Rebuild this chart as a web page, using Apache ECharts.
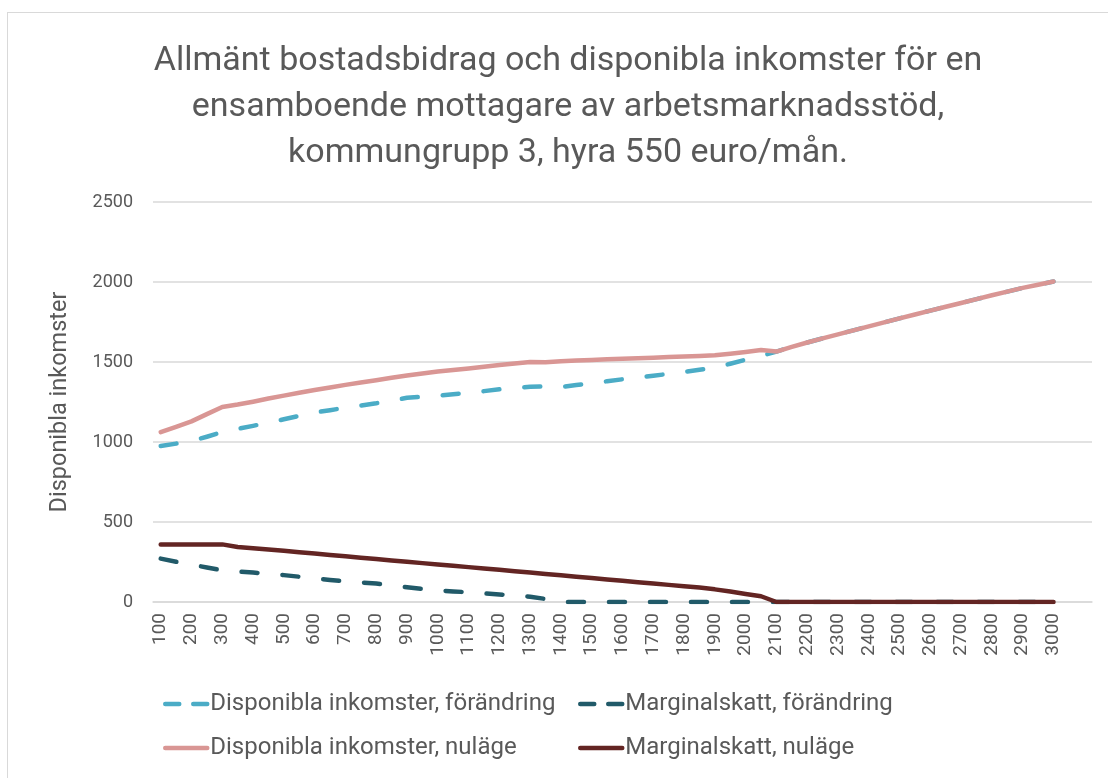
<!DOCTYPE html>
<html lang="sv">
<head>
    <meta charset="UTF-8">
    <title>Allmänt bostadsbidrag</title>
    <script src="https://cdn.jsdelivr.net/npm/echarts@6/dist/echarts.min.js"></script>
    <style>
        html, body { margin: 0; padding: 0; background: #fff; overflow: hidden; }
        #frame { position: absolute; left: 7px; top: 12px; width: 1200px; height: 900px; border: 1px solid #d9d9d9; }
        #main { position: absolute; left: 0; top: 0; width: 1108px; height: 778px; }
    </style>
</head>
<body>
<div id="frame"></div>
<div id="main"></div>
<script type="text/javascript">
    // inkomst (euro/mån), steg om 50
    var inkomst = [100, 150, 200, 250, 300, 350, 400, 450, 500, 550, 600, 650, 700, 750, 800, 850, 900, 950, 1000, 1050,
        1100, 1150, 1200, 1250, 1300, 1350, 1400, 1450, 1500, 1550, 1600, 1650, 1700, 1750, 1800, 1850, 1900, 1950, 2000, 2050,
        2100, 2150, 2200, 2250, 2300, 2350, 2400, 2450, 2500, 2550, 2600, 2650, 2700, 2750, 2800, 2850, 2900, 2950, 3000];

    var dispForandring = [975, 990, 1005, 1033, 1062, 1082, 1101, 1121, 1142, 1163, 1184, 1199, 1214, 1228, 1242, 1259, 1276, 1283, 1290, 1298,
        1307, 1318, 1329, 1337, 1345, 1347, 1344, 1356, 1367, 1380, 1392, 1403, 1414, 1426, 1438, 1451, 1464, 1489, 1514, 1538,
        1565, 1595, 1622, 1648, 1673, 1698, 1723, 1748, 1773, 1797, 1821, 1845, 1869, 1893, 1917, 1940, 1963, 1983, 2003];

    var margForandring = [271, 252, 233, 216, 198, 190, 184, 176, 168, 158, 148, 138, 129, 122, 116, 104, 92, 82, 72, 66,
        61, 54, 47, 40, 33, 19, 0, 0, 0, 0, 0, 0, 0, 0, 0, 0, 0, 0, 0, 0,
        0, 0, 0, 0, 0, 0, 0, 0, 0, 0, 0, 0, 0, 0, 0, 0, 0, 0, 0];

    var dispNulage = [1062, 1095, 1129, 1174, 1219, 1234, 1252, 1272, 1290, 1308, 1325, 1341, 1357, 1372, 1386, 1401, 1415, 1428, 1440, 1450,
        1460, 1470, 1481, 1491, 1500, 1498, 1505, 1509, 1513, 1517, 1520, 1524, 1527, 1531, 1535, 1538, 1542, 1552, 1563, 1575,
        1565, 1595, 1622, 1648, 1673, 1698, 1723, 1748, 1773, 1797, 1821, 1845, 1869, 1893, 1917, 1940, 1963, 1983, 2003];

    var margNulage = [360, 360, 360, 360, 360, 344, 336, 328, 320, 311, 303, 294, 286, 277, 269, 260, 252, 243, 235, 226,
        218, 209, 201, 192, 184, 175, 167, 158, 150, 141, 133, 124, 116, 107, 99, 90, 79, 65, 50, 36,
        0, 0, 0, 0, 0, 0, 0, 0, 0, 0, 0, 0, 0, 0, 0, 0, 0, 0, 0];

    var namn = ['Disponibla inkomster, förändring', 'Marginalskatt, förändring',
        'Disponibla inkomster, nuläge', 'Marginalskatt, nuläge'];
    var farger = ['#4bacc6', '#215a69', '#d99694', '#632523'];

    var font = 'Roboto, "Open Sans", sans-serif';
    var grey = '#595959';

    // två tomma kategorier i slutet, som i Excel-diagrammet
    var kategorier = inkomst.map(String).concat(['', '']);

    var myChart = echarts.init(document.getElementById('main'));

    function linje(i, data, streckad) {
        return {
            name: namn[i],
            type: 'line',
            data: data,
            symbol: 'none',
            animation: false,
            color: farger[i],
            lineStyle: {
                width: 4.5,
                color: farger[i],
                type: streckad ? [16, 25] : 'solid',
                cap: 'round',
                join: 'round'
            }
        };
    }

    function legendItem(i, left, top, streckad) {
        return {
            data: [namn[i]],
            left: left,
            top: top,
            itemWidth: 42,
            itemHeight: 5,
            itemGap: 0,
            padding: 0,
            itemStyle: { color: 'transparent', borderWidth: 0 },
            lineStyle: {
                width: 4.5,
                color: farger[i],
                type: streckad ? [14, 14] : 'solid',
                cap: 'round'
            },
            textStyle: { color: grey, fontSize: 24, fontFamily: font, padding: [0, 0, 0, -2] }
        };
    }

    var option = {
        backgroundColor: 'transparent',
        textStyle: { fontFamily: font },
        title: {
            text: 'Allmänt bostadsbidrag och disponibla inkomster för en\nensamboende mottagare av arbetsmarknadsstöd,\nkommungrupp 3, hyra 550 euro/mån.',
            left: 563,
            top: 33,
            textAlign: 'center',
            textStyle: {
                color: grey,
                fontSize: 34,
                fontWeight: 'normal',
                fontFamily: font,
                lineHeight: 46
            }
        },
        legend: [
            legendItem(0, 163, 692, true),
            legendItem(1, 578, 692, true),
            legendItem(2, 163, 736, false),
            legendItem(3, 578, 736, false)
        ],
        grid: {
            left: 153,
            right: 16,
            top: 202,
            bottom: 176,
            containLabel: false
        },
        xAxis: {
            type: 'category',
            boundaryGap: true,
            data: kategorier,
            axisLine: { show: true, lineStyle: { color: '#d9d9d9', width: 1.5 } },
            axisTick: { show: false },
            axisLabel: {
                interval: 1,
                rotate: 90,
                color: grey,
                fontSize: 19,
                fontFamily: font,
                margin: 11
            },
            splitLine: { show: false }
        },
        yAxis: {
            type: 'value',
            min: 0,
            max: 2500,
            interval: 500,
            name: 'Disponibla inkomster',
            nameLocation: 'middle',
            nameGap: 81,
            nameRotate: 90,
            nameTextStyle: { color: grey, fontSize: 23.5, fontFamily: font },
            axisLine: { show: false },
            axisTick: { show: false },
            axisLabel: {
                color: grey,
                fontSize: 18,
                fontFamily: font,
                margin: 20,
                formatter: function (v) { return String(v); }
            },
            splitLine: { lineStyle: { color: '#d9d9d9', width: 1.5 } }
        },
        series: [
            linje(0, dispForandring, true),
            linje(1, margForandring, true),
            linje(2, dispNulage, false),
            linje(3, margNulage, false)
        ]
    };

    myChart.setOption(option);
</script>
</body>
</html>
